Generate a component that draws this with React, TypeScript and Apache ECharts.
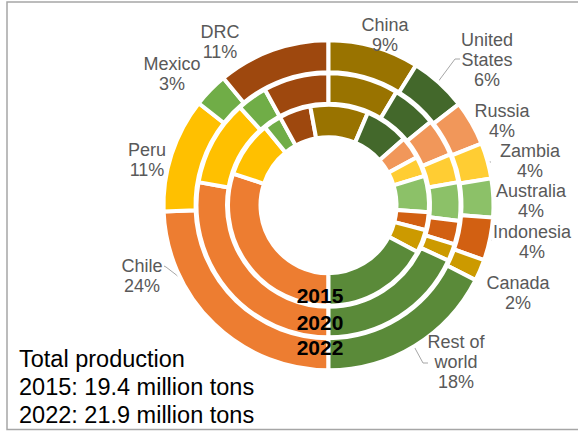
import React, { useEffect, useRef } from "react";
import * as echarts from "echarts";

// ---- data (shares of world mine production, %) ----
const categories = [
  "Chile", "Peru", "Mexico", "DRC", "China", "United States",
  "Russia", "Zambia", "Australia", "Indonesia", "Canada", "Rest of world",
];
const share2015 = [30.1, 9.0, 2.9, 5.1, 9.3, 7.1, 3.6, 3.2, 5.8, 2.9, 3.7, 17.3];
const share2020 = [27.8, 10.5, 3.7, 8.0, 8.6, 5.5, 4.6, 3.5, 4.7, 2.9, 2.1, 18.1];
const share2022 = [24.4, 11.2, 3.4, 11.0, 8.9, 5.6, 4.4, 3.5, 3.8, 4.2, 2.1, 17.5];
const years = ["2015", "2020", "2022"];
const totals = [
  { year: "2015", value: 19.4 },
  { year: "2022", value: 21.9 },
];

// ---- styling ----
const COLORS = [
  "#ED7D31", "#FFC000", "#70AD47", "#9E480E", "#997300", "#43682B",
  "#F1975A", "#FFCD33", "#8CC168", "#D26012", "#CC9A00", "#5A8A39",
];
const FONT = "'Liberation Sans', Arial, sans-serif";
const CX = 328.5;
const CY = 205.2;

// label block centres (px) and leader-line label-side points
const LABEL_POS: Record<string, [number, number]> = {
  Chile: [142, 276],
  Peru: [147, 160],
  Mexico: [172, 74],
  DRC: [220, 42],
  China: [385, 35],
  "United States": [487, 60],
  Russia: [502, 121],
  Zambia: [530, 161],
  Australia: [531, 201],
  Indonesia: [532, 242],
  Canada: [518, 293],
  "Rest of world": [456, 362],
};
const LEADER: Record<string, [number, number][]> = {
  Chile: [[166, 267], [164, 266]],
  "United States": [[455, 59], [460, 59]],
  Russia: [[468, 122], [473, 122]],
  Zambia: [[488, 162], [491, 162]],
  Australia: [[490, 200], [493, 200]],
  Indonesia: [[489, 240], [492, 240]],
  "Rest of world": [[423, 363], [428, 363]],
};

function wrapName(n: string) {
  const i = n.lastIndexOf(" ");
  return i < 0 ? n : n.slice(0, i) + "\n" + n.slice(i + 1);
}

function midAngle(values: number[], idx: number) {
  const total = values.reduce((a, b) => a + b, 0);
  let cum = 0;
  for (let i = 0; i < idx; i++) cum += values[i];
  // clockwise from 12 o'clock, starting at 6 o'clock
  return 180 + (360 * (cum + values[idx] / 2)) / total;
}

export default function App() {
  const ref = useRef<HTMLDivElement>(null);
  useEffect(() => {
    if (!ref.current) return;
    const chart = echarts.init(ref.current, undefined, { renderer: "svg" });
    const rings: { values: number[]; radius: [number, number] }[] = [
      { values: share2015, radius: [68, 100.5] },
      { values: share2020, radius: [101.5, 132] },
      { values: share2022, radius: [133, 165] },
    ];
    const series = rings.map((ring, si) => {
      const outer = si === rings.length - 1;
      return {
        type: "pie",
        name: years[si],
        center: [CX, CY],
        radius: ring.radius,
        startAngle: 270,
        clockwise: true,
        silent: true,
        avoidLabelOverlap: false,
        itemStyle: { borderColor: "#ffffff", borderWidth: 4 },
        label: outer
          ? {
              show: true,
              position: "outside",
              color: "#595959",
              fontFamily: FONT,
              fontSize: 18,
              lineHeight: 20,
              align: "center",
              formatter: (p: any) => `${wrapName(p.name)}\n${Math.round(p.value)}%`,
            }
          : { show: false },
        labelLine: outer
          ? { show: true, smooth: false, lineStyle: { color: "#A6A6A6", width: 1 } }
          : { show: false },
        labelLayout: outer
          ? (p: any) => {
              const name = categories[p.dataIndex];
              const pos = LABEL_POS[name];
              const res: any = { x: pos[0], y: pos[1], align: "center", verticalAlign: "middle" };
              const lead = LEADER[name];
              if (lead) {
                const a = (midAngle(ring.values, p.dataIndex) * Math.PI) / 180;
                const r = (ring.radius[0] + ring.radius[1]) / 2;
                const seg = [CX + r * Math.sin(a), CY - r * Math.cos(a)];
                res.labelLinePoints = [seg, lead[0], lead[1]];
              }
              return res;
            }
          : undefined,
        data: categories.map((c, i) => ({
          name: c,
          value: ring.values[i],
          itemStyle: { color: COLORS[i] },
          labelLine: { show: outer && !!LEADER[c] },
        })),
      };
    });

    const ringMidY = [295, 322, 347];
    chart.setOption({
      animation: false,
      series,
      graphic: {
        elements: [
          {
            type: "rect",
            z: 1,
            shape: { x: 7, y: 2, width: 600, height: 427.5 },
            style: { fill: "none", stroke: "#A6A6A6", lineWidth: 1.5 },
            silent: true,
          },
          ...years.map((y, i) => ({
            type: "text",
            z: 100,
            x: 320,
            y: ringMidY[i],
            style: {
              text: y,
              fill: "#000000",
              fontFamily: FONT,
              fontWeight: "bold",
              fontSize: 21,
              align: "center",
              verticalAlign: "middle",
            },
            silent: true,
          })),
          {
            type: "text",
            z: 100,
            x: 19,
            y: 344.4,
            style: {
              text: ["Total production", ...totals.map((t) => `${t.year}: ${t.value} million tons`)].join("\n"),
              fill: "#000000",
              fontFamily: FONT,
              fontSize: 23.5,
              lineHeight: 28.3,
              align: "left",
              verticalAlign: "top",
            },
            silent: true,
          },
        ],
      },
    });
    return () => chart.dispose();
  }, []);
  return (
    <div
      ref={ref}
      style={{ position: "absolute", left: 0, top: 0, width: 578, height: 431, background: "#fff" }}
    />
  );
}
